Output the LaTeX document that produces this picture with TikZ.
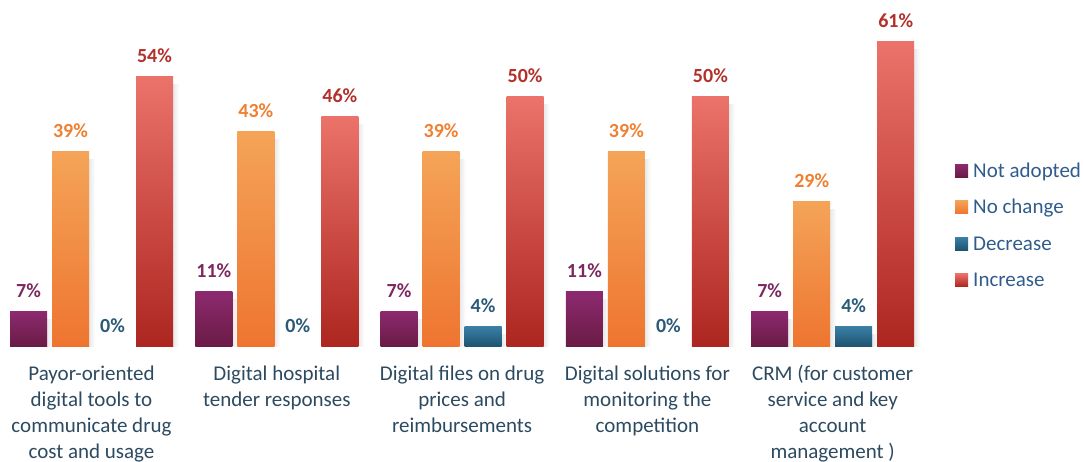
\documentclass[tikz,border=0pt]{standalone}
\usepackage{fontspec}
\setmainfont{Carlito}
\usetikzlibrary{calc}
\definecolor{top0}{HTML}{8D2A70}
\definecolor{bot0}{HTML}{6A1B45}
\definecolor{top1}{HTML}{F4A458}
\definecolor{bot1}{HTML}{EE7530}
\definecolor{top2}{HTML}{3B80A6}
\definecolor{bot2}{HTML}{1E5572}
\definecolor{top3}{HTML}{EB736A}
\definecolor{bot3}{HTML}{AD2620}
\definecolor{lab0}{HTML}{7D2860}
\definecolor{lab1}{HTML}{EF8030}
\definecolor{lab2}{HTML}{2A5A78}
\definecolor{lab3}{HTML}{B2302A}
\definecolor{catblue}{HTML}{2C4A60}
\definecolor{keyblue}{HTML}{2F5C8C}

\begin{document}
\begin{tikzpicture}[x=1pt,y=-1pt,
  val/.style={font=\fontsize{20}{24}\selectfont\bfseries,anchor=base,inner sep=0},
  cat/.style={font=\fontsize{21}{26}\selectfont,align=center,text=catblue,anchor=base,inner sep=0},
  key/.style={font=\fontsize{21}{24}\selectfont,text=keyblue,anchor=base west,inner sep=0}]
  \useasboundingbox (0,0) rectangle (1084,461);
  % bars
  \foreach \g/\va/\vb/\vc/\vd in {0/7/39/0/54,1/11/43/0/46,2/7/39/4/50,3/11/39/0/50,4/7/29/4/61}{
    \foreach \s/\v in {0/\va,1/\vb,2/\vc,3/\vd}{
      \pgfmathsetmacro{\xl}{10+185.3*\g+42*\s}
      \pgfmathsetmacro{\xr}{\xl+37}
      \pgfmathsetmacro{\yt}{346-5*\v}
      \ifnum\v>0
        \shade[left color=black!9,right color=white] (\xr,\yt+8) rectangle (\xr+6,346);
        \shade[top color=top\s,bottom color=bot\s] (\xl,\yt) rectangle (\xr,346);
      \fi
      \node[val,text=lab\s] (v\g\s) at (\xl+18.5,\yt-14) {\v\%};
    }
  }
  % categories (base = last line)
  \node[cat] (c0) at (91.5,458) {Payor-oriented\\digital tools to\\communicate drug\\cost and usage};
  \node[cat] (c1) at (276.8,406) {Digital hospital\\tender responses};
  \node[cat] (c2) at (462.1,432) {Digital files on drug\\prices and\\reimbursements};
  \node[cat] (c3) at (647.4,432) {Digital solutions for\\monitoring the\\competition};
  \node[cat] (c4) at (832.7,458) {CRM (for customer\\service and key\\account\\management )};
  % legend
  \foreach \s/\lab/\yb in {0/Not adopted/177,1/No change/213.5,2/Decrease/250,3/Increase/286.5}{
    \shade[top color=top\s,bottom color=bot\s] (955,\yb-13) rectangle (968,\yb);
    \node[key] (k\s) at (973,\yb) {\lab};
  }
\end{tikzpicture}
\end{document}
